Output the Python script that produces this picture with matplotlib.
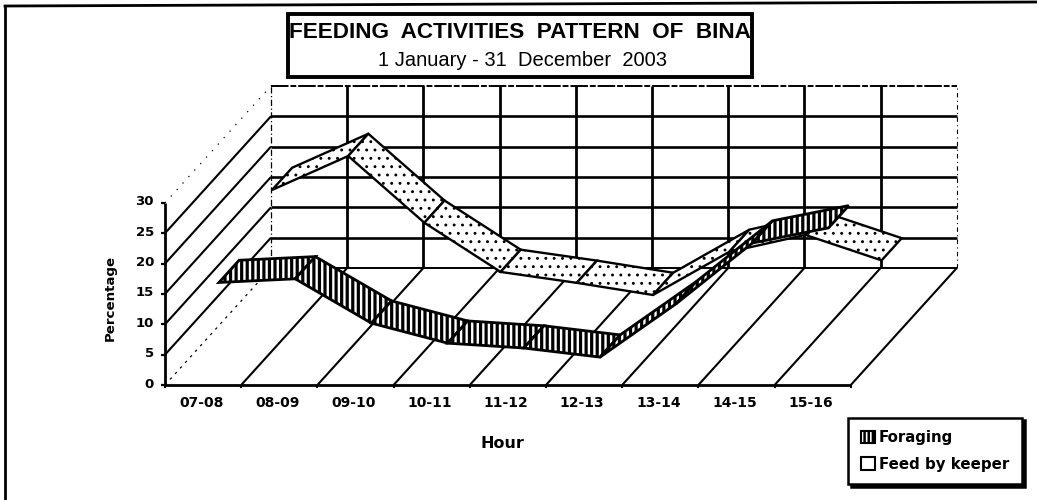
import matplotlib
matplotlib.use("Agg")
import matplotlib.pyplot as plt
from matplotlib.patches import Polygon, Patch, Rectangle

hours = ["07-08", "08-09", "09-10", "10-11", "11-12", "12-13", "13-14", "14-15", "15-16"]
foraging = [14.0, 14.6, 7.3, 4.0, 3.2, 1.7, 10.5, 20.5, 23.0]
feed_by_keeper = [19.6, 25.2, 14.2, 6.1, 4.3, 2.3, 9.4, 12.2, 8.0]
y_ticks = [0, 5, 10, 15, 20, 25, 30]

# oblique projection of the 3-D chart box onto the page (pixels)
X0, Y0, STEP, UNIT, DX, DY = 165.0, 385.0, 76.2, 6.07, 106.0, -117.0
def proj(cat, val, depth):
    return (X0 + cat * STEP + depth * DX, Y0 - val * UNIT + depth * DY)

plt.rcParams["font.family"] = ["Liberation Sans", "DejaVu Sans"]
fig = plt.figure(figsize=(10.37, 5.0), dpi=100)
ax = fig.add_axes([0, 0, 1, 1])
ax.set_xlim(0, 1037)
ax.set_ylim(500, 0)
ax.axis("off")

n = len(hours)
def seg(p, q, **kw):
    ax.plot([p[0], q[0]], [p[1], q[1]], color="black", solid_capstyle="butt", **kw)

# back wall
for v in y_ticks[1:-1]:
    seg(proj(0, v, 1), proj(n, v, 1), lw=1.9)
seg(proj(0, 0, 1), proj(n, 0, 1), lw=1.4)
seg(proj(0, 30, 1), proj(n, 30, 1), lw=1.4, linestyle=(0, (9, 1, 3, 1)))
for c in range(1, n):
    seg(proj(c, 0, 1), proj(c, 30, 1), lw=2.0)
seg(proj(0, 0, 1), proj(0, 30, 1), lw=0.9, linestyle=(0, (5, 2, 1, 2)))
seg(proj(n, 0, 1), proj(n, 30, 1), lw=0.8, linestyle=(0, (4, 3, 1, 3)))
# left wall
for v in y_ticks[1:-1]:
    seg(proj(0, v, 0), proj(0, v, 1), lw=1.5)
seg(proj(0, 30, 0), proj(0, 30, 1), lw=0.9, linestyle=(0, (1, 6)))
seg(proj(0, 0, 0), proj(0, 0, 1), lw=0.9, linestyle=(0, (2, 4)))
# floor
for c in range(1, n + 1):
    seg(proj(c, 0, 0), proj(c, 0, 1), lw=1.5)

# ribbons: back series first
def ribbon(values, d0, d1, hatch, hatch_lw, edge_lw):
    plt.rcParams["hatch.linewidth"] = hatch_lw
    for i in range(n - 1):
        pts = [proj(i + .5, values[i], d0), proj(i + 1.5, values[i + 1], d0),
               proj(i + 1.5, values[i + 1], d1), proj(i + .5, values[i], d1)]
        ax.add_patch(Polygon(pts, closed=True, facecolor="white", edgecolor="black",
                             hatch=hatch, lw=edge_lw, zorder=3 + i * .01 + (1 if d0 < .5 else 0)))

ribbon(feed_by_keeper, 0.65, 0.84, "..", 0.9, 1.7)
ribbon(foraging, 0.15, 0.34, "|||", 2.3, 2.0)

# front axes
seg(proj(0, 0, 0), proj(n, 0, 0), lw=2.0)
seg(proj(0, 0, 0), proj(0, 30, 0), lw=2.0)
for v in y_ticks:
    x, y = proj(0, v, 0)
    seg((x - 4, y), (x, y), lw=1.6)
    ax.text(x - 11, y - 1, str(v), ha="right", va="center", fontsize=9.5,
            family="DejaVu Sans", fontweight="bold")
for c in range(n + 1):
    x, y = proj(c, 0, 0)
    seg((x, y), (x, y + 3), lw=1.5)
for c, lab in enumerate(hours):
    x, y = proj(c + .5, 0, 0)
    ax.text(x - 2, y + 18, lab, ha="center", va="center", fontsize=10,
            family="DejaVu Sans", fontweight="bold")

ax.text(110, 298, "Percentage", rotation=90, ha="center", va="center", fontsize=9.6,
        family="DejaVu Sans", fontweight="bold")
ax.text(502, 443, "Hour", ha="center", va="center", fontsize=11.5,
        family="DejaVu Sans", fontweight="bold")

# title box
ax.add_patch(Rectangle((288, 14), 464, 63, facecolor="white", edgecolor="black", lw=2.8, zorder=6))
ax.text(520, 33, "FEEDING  ACTIVITIES  PATTERN  OF  BINA", ha="center", va="center",
        fontsize=16.2, fontweight="bold", zorder=7)
ax.text(522, 60, "1 January - 31  December  2003", ha="center", va="center",
        fontsize=14.5, zorder=7)

# outer frame: only the left and top edges fall inside the scan
ax.plot([5, 5], [500, 6], color="black", lw=2.0)
ax.plot([5, 1037], [6, 2], color="black", lw=2.0)

# legend
plt.rcParams["hatch.linewidth"] = 1.8
handles = [Patch(facecolor="white", edgecolor="black", hatch="||||", lw=1.5, label="Foraging"),
           Patch(facecolor="white", edgecolor="black", lw=1.5, label="Feed by keeper")]
leg = ax.legend(handles=handles, loc="center", bbox_to_anchor=(935 / 1037, 1 - 451 / 500),
                frameon=True, fancybox=False, shadow={"color": "black", "alpha": 1}, framealpha=1,
                edgecolor="black", handlelength=0.95, handleheight=0.9, handletextpad=0.25,
                labelspacing=0.75, borderpad=0.85, borderaxespad=0,
                prop={"family": "DejaVu Sans", "size": 10.8, "weight": "bold"})
leg.get_frame().set_linewidth(1.8)
leg.set_zorder(8)

fig.savefig("out.png", dpi=100)
